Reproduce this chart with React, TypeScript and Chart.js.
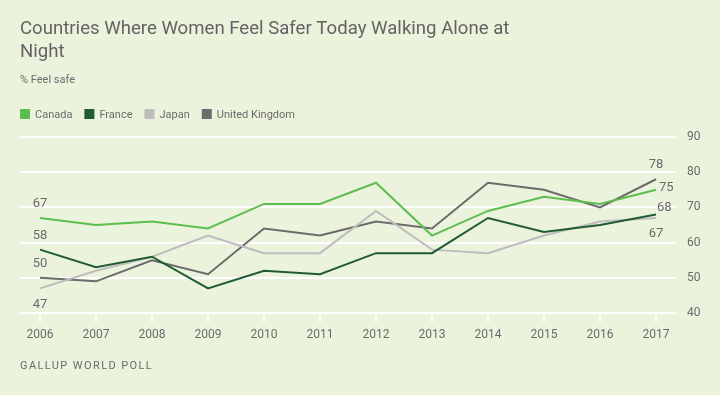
import React, { useEffect, useRef } from "react";
import { Chart, registerables } from "chart.js";

Chart.register(...registerables);

const years = [2006, 2007, 2008, 2009, 2010, 2011, 2012, 2013, 2014, 2015, 2016, 2017];
const canada = [67, 65, 66, 64, 71, 71, 77, 62, 69, 73, 71, 75];
const france = [58, 53, 56, 47, 52, 51, 57, 57, 67, 63, 65, 68];
const japan = [47, 52, 56, 62, 57, 57, 69, 58, 57, 62, 66, 67];
const uk = [50, 49, 55, 51, 64, 62, 66, 64, 77, 75, 70, 78];
const yTicks = [40, 50, 60, 70, 80, 90];

const seriesNames = ["Canada", "France", "Japan", "United Kingdom"];
const seriesValues = [canada, france, japan, uk];
const seriesColors = ["#5dbe4f", "#205c31", "#bdbdbd", "#6b6b6b"];

const titleLines = ["Countries Where Women Feel Safer Today Walking Alone at", "Night"];
const subtitle = "% Feel safe";
const footer = "GALLUP WORLD POLL";

const BG = "#ecf3dd";
const TEXT = "#6b6b6b";
const FONT = "Roboto, 'Liberation Sans', sans-serif";

// value labels: [series, point index, placement]
const valueLabels: [number, number, string][] = [
  [0, 0, "above"],
  [1, 0, "above"],
  [3, 0, "above"],
  [2, 0, "below"],
  [3, 11, "above"],
  [0, 11, "right"],
  [1, 11, "rightup"],
  [2, 11, "below"],
];

export default function App() {
  const ref = useRef<HTMLCanvasElement | null>(null);
  useEffect(() => {
    if (!ref.current) return;
    const textPlugin = {
      id: "texts",
      beforeDraw(chart: any) {
        const ctx = chart.ctx;
        ctx.save();
        ctx.fillStyle = BG;
        ctx.fillRect(0, 0, chart.width, chart.height);
        ctx.restore();
      },
      afterDatasetsDraw(chart: any) {
        const ctx = chart.ctx;
        const xs = chart.scales.x;
        const ys = chart.scales.y;
        ctx.save();
        ctx.font = `13px ${FONT}`;
        ctx.fillStyle = TEXT;
        ctx.textBaseline = "middle";
        for (const [s, i, where] of valueLabels) {
          const v = seriesValues[s][i];
          const x = xs.getPixelForValue(years[i]);
          const y = ys.getPixelForValue(v);
          const t = String(v);
          if (where === "above") {
            ctx.textAlign = "center";
            ctx.fillText(t, x, y - 14);
          } else if (where === "below") {
            ctx.textAlign = "center";
            ctx.fillText(t, x, y + 16);
          } else if (where === "right") {
            ctx.textAlign = "left";
            ctx.fillText(t, x + 3, y - 2);
          } else {
            ctx.textAlign = "left";
            ctx.fillText(t, x + 1, y - 7);
          }
        }
        ctx.restore();
      },
      afterDraw(chart: any) {
        const ctx = chart.ctx;
        ctx.save();
        ctx.fillStyle = "#636363";
        ctx.textAlign = "left";
        ctx.textBaseline = "alphabetic";
        ctx.font = `18.6px ${FONT}`;
        ctx.fillText(titleLines[0], 20, 34);
        ctx.fillText(titleLines[1], 20, 57);
        ctx.font = `11px ${FONT}`;
        ctx.fillStyle = TEXT;
        ctx.fillText(subtitle, 20, 83);
        // legend
        let x = 20;
        ctx.font = `11px ${FONT}`;
        for (let k = 0; k < seriesNames.length; k++) {
          ctx.fillStyle = seriesColors[k];
          ctx.fillRect(x, 109, 10, 10);
          ctx.fillStyle = TEXT;
          ctx.fillText(seriesNames[k], x + 15, 118);
          x += 15 + ctx.measureText(seriesNames[k]).width + 12;
        }
        ctx.font = `11px ${FONT}`;
        (ctx as any).letterSpacing = "1.4px";
        ctx.fillStyle = TEXT;
        ctx.fillText(footer, 20, 369);
        ctx.restore();
      },
    };

    const chart = new Chart(ref.current, {
      type: "line",
      data: {
        datasets: seriesNames.map((name, k) => ({
          label: name,
          data: seriesValues[k].map((v, i) => ({ x: years[i], y: v })),
          borderColor: seriesColors[k],
          backgroundColor: seriesColors[k],
          borderWidth: 2,
          pointRadius: 0,
          tension: 0,
          fill: false,
        })),
      },
      options: {
        animation: false,
        responsive: false,
        layout: { padding: { left: 20, top: 137, right: 0, bottom: 0 } },
        plugins: { legend: { display: false }, tooltip: { enabled: false } },
        scales: {
          x: {
            type: "linear",
            min: years[0] - 20 / 56,
            max: years[years.length - 1] + 20 / 56,
            afterBuildTicks: (s: any) => {
              s.ticks = years.map((v) => ({ value: v }));
            },
            afterFit: (s: any) => {
              s.height = 82;
            },
            grid: { drawOnChartArea: false, drawTicks: true, tickLength: 9, color: "#ffffff", lineWidth: 2 },
            border: { display: false },
            ticks: {
              callback: (v: any) => String(v),
              font: { family: FONT, size: 12 },
              color: TEXT,
              padding: 6,
              maxRotation: 0,
              autoSkip: false,
            },
          },
          y: {
            position: "right",
            min: 40,
            max: 90,
            afterBuildTicks: (s: any) => {
              s.ticks = yTicks.map((v) => ({ value: v }));
            },
            afterFit: (s: any) => {
              s.width = 44;
            },
            grid: { color: "#ffffff", lineWidth: 2, drawTicks: false },
            border: { display: false },
            ticks: { padding: 11, font: { family: FONT, size: 12 }, color: TEXT },
          },
        },
      },
      plugins: [textPlugin],
    } as any);
    return () => chart.destroy();
  }, []);

  return (
    <div style={{ position: "absolute", left: 0, top: 0, width: 720, height: 395, background: BG }}>
      <canvas ref={ref} width={720} height={395} style={{ display: "block" }} />
    </div>
  );
}
